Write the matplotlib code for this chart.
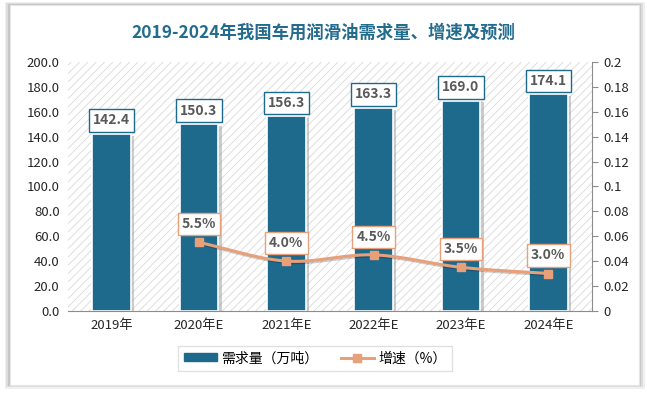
import matplotlib.pyplot as plt
import numpy as np
from matplotlib.patches import Rectangle
from matplotlib.lines import Line2D
import matplotlib.patheffects as pe

plt.rcParams['font.family'] = ['Noto Sans CJK SC', 'DejaVu Sans']
plt.rcParams['hatch.linewidth'] = 0.6

# 数据
years = ['2019年', '2020年E', '2021年E', '2022年E', '2023年E', '2024年E']
demand = [142.4, 150.3, 156.3, 163.3, 169.0, 174.1]
growth = [None, 0.055, 0.040, 0.045, 0.035, 0.030]

bar_color = '#1e6a8d'
line_color = '#e8a07a'

fig = plt.figure(figsize=(6.47, 3.95), dpi=100)
# 外框 + 阴影
for i, a in enumerate([0.06, 0.08, 0.10]):
    d = 0.003 * (3 - i)
    fig.patches.append(Rectangle((0.016 - d, 0.025 - d), 0.972 + 2 * d, 0.962 + 2 * d,
                                 transform=fig.transFigure, facecolor='black', alpha=a,
                                 lw=0, zorder=-3))
fig.patches.append(Rectangle((0.016, 0.025), 0.972, 0.962, transform=fig.transFigure,
                             facecolor='white', edgecolor='#e6e6e6', lw=0.8, zorder=-1))

ax = fig.add_axes([0.105, 0.213, 0.81, 0.63])
x = np.arange(len(years))

# 背景斜纹
ax.patch.set_visible(False)
ax.add_patch(Rectangle((0, 0), 1, 1, transform=ax.transAxes, facecolor='white',
                       edgecolor='#d9d9d9', hatch='////', lw=0, zorder=0))

# 柱子阴影
ax.bar(x + 0.04, demand, width=0.44, bottom=-1.5, color='#9a9a9a', alpha=0.5, zorder=1)
ax.bar(x, demand, width=0.44, color=bar_color, edgecolor='white', lw=1.2, zorder=2)

for xi, v in zip(x, demand):
    ax.text(xi, v + 5, f'{v:.1f}', ha='center', va='bottom', fontsize=10, fontweight='bold',
            color='#595959', zorder=6,
            bbox=dict(boxstyle='square,pad=0.3', fc='white', ec=bar_color, lw=1.0))

ax.set_xlim(-0.5, len(years) - 0.5)
ax.set_ylim(0, 200)
ax.set_yticks(np.arange(0, 201, 20))
ax.set_yticklabels([f'{v:.1f}' for v in np.arange(0, 201, 20)], fontsize=9.5, color='#262626')
ax.set_xticks(x)
ax.set_xticklabels(years, fontsize=9.5, color='#262626')
ax.tick_params(axis='both', length=0, pad=6)
for s in ['top', 'right', 'left']:
    ax.spines[s].set_visible(False)
ax.spines['bottom'].set_color('#8c8c8c')
ax.spines['bottom'].set_zorder(5)

# 右轴 增速
ax2 = ax.twinx()
ax2.set_ylim(0, 0.2)
rticks = np.round(np.arange(0, 0.201, 0.02), 2)
ax2.set_yticks(rticks)
ax2.set_yticklabels([f'{v:g}' for v in rticks], fontsize=9.5, color='#262626')
ax2.tick_params(axis='y', length=4, color='#8c8c8c', direction='out', pad=4)
for s in ['top', 'left', 'bottom']:
    ax2.spines[s].set_visible(False)
ax2.spines['right'].set_color('#8c8c8c')

gx = np.array([i for i, g in enumerate(growth) if g is not None], dtype=float)
gy = np.array([g for g in growth if g is not None])

# 平滑曲线 (Catmull-Rom)
pts = np.column_stack([gx, gy])
ext = np.vstack([2 * pts[0] - pts[1], pts, 2 * pts[-1] - pts[-2]])
cx, cy = [], []
for i in range(1, len(ext) - 2):
    p0, p1, p2, p3 = ext[i - 1], ext[i], ext[i + 1], ext[i + 2]
    for t in np.linspace(0, 1, 20):
        p = 0.5 * ((2 * p1) + (-p0 + p2) * t + (2 * p0 - 5 * p1 + 4 * p2 - p3) * t ** 2
                   + (-p0 + 3 * p1 - 3 * p2 + p3) * t ** 3)
        cx.append(p[0]); cy.append(p[1])
ax2.plot(cx, cy, color=line_color, lw=2.2, zorder=3,
         path_effects=[pe.SimpleLineShadow(offset=(1, -1), alpha=0.2), pe.Normal()])
ax2.plot(gx, gy, 's', color=line_color, ms=6, zorder=4)

for xi, g in zip(gx, gy):
    ax2.text(xi, g + 0.009, f'{g * 100:.1f}%', ha='center', va='bottom', fontsize=10,
             fontweight='bold', color='#595959', zorder=6,
             bbox=dict(boxstyle='square,pad=0.3', fc='white', ec=line_color, lw=1.0))

fig.text(0.5, 0.918, '2019-2024年我国车用润滑油需求量、增速及预测', ha='center', va='center',
         fontsize=12.5, fontweight='bold', color='#236c8e')

handles = [Rectangle((0, 0), 1, 1, color=bar_color),
           Line2D([0], [0], color=line_color, lw=2.2, marker='s', ms=6)]
fig.legend(handles, ['需求量（万吨）', '增速（%）'], loc='center', bbox_to_anchor=(0.487, 0.093),
           ncol=2, frameon=True, fancybox=False, edgecolor='#d9d9d9', fontsize=10,
           handlelength=2.4, handleheight=0.5, handletextpad=0.3, columnspacing=1.6,
           borderpad=0.4, borderaxespad=0)

fig.savefig('out.png', dpi=100)
